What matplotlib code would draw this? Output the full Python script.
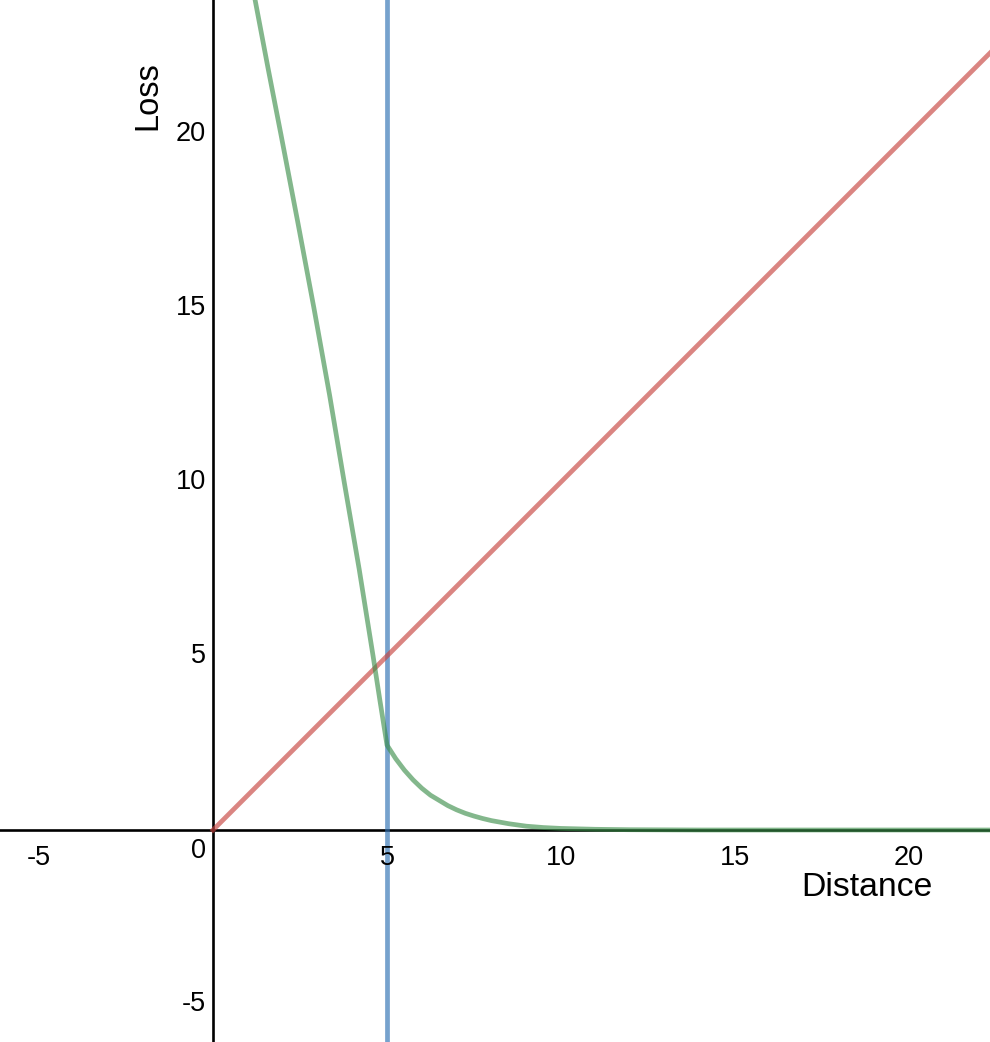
import numpy as np
import matplotlib
matplotlib.use("Agg")
import matplotlib.pyplot as plt

plt.rcParams['font.family'] = ['Liberation Sans', 'DejaVu Sans']

# Data
green_x = [1.0, 1.21, 1.58, 1.95, 2.43, 2.9, 3.35, 3.77, 4.2, 4.6, 4.8, 5.0,
           5.25, 5.5, 5.75, 6.0, 6.25, 6.5, 6.75, 7.0, 7.25, 7.5, 7.75, 8.0,
           8.5, 9.0, 9.5, 10.0, 11.0, 12.0, 14.0, 23.0]
green_y = [24.95, 23.85, 21.9, 20.0, 17.5, 15.0, 12.5, 10.0, 7.5, 5.0, 3.7, 2.44,
           2.05, 1.72, 1.44, 1.2, 1.0, 0.85, 0.7, 0.58, 0.48, 0.4, 0.33, 0.27,
           0.18, 0.11, 0.07, 0.045, 0.02, 0.008, 0.0, 0.0]
red_x = [0.0, 23.0]
red_y = [0.0, 23.0]
margin_x = 5.0

x_ticks = [-5, 5, 10, 15, 20]
y_ticks = [-5, 5, 10, 15, 20]

# Desmos-like colours
GREEN = '#388c46'
RED = '#c74440'
BLUE = '#2d70b3'

fig = plt.figure(figsize=(9.9, 10.42), dpi=100)
ax = fig.add_axes([0, 0, 1, 1])
unit = 34.8  # pixels per unit
ax.set_xlim(-213 / unit, (990 - 213) / unit)
ax.set_ylim(-(1042 - 830) / unit, 830 / unit)
ax.axis('off')

# axes
ax.axhline(0, color='black', lw=1.9, zorder=1)
ax.axvline(0, color='black', lw=1.9, zorder=1)

# curves
ax.axvline(margin_x, color=BLUE, lw=3.4, alpha=0.65, zorder=2)
ax.plot(red_x, red_y, color=RED, lw=3.4, alpha=0.65, zorder=3)
ax.plot(green_x, green_y, color=GREEN, lw=3.4, alpha=0.62, zorder=4,
        solid_joinstyle='round')

# tick labels
for xv in x_ticks:
    ax.text(xv, -0.8, str(xv), ha='center', va='center', fontsize=19.5)
for yv in y_ticks:
    ax.text(-0.2, yv, str(yv), ha='right', va='center', fontsize=19.5)
ax.text(-0.2, -0.6, '0', ha='right', va='center', fontsize=19.5)

# axis titles
ax.text(-1.86, 21.1, 'Loss', rotation=90, ha='center', va='center', fontsize=23.5)
ax.text(18.79, -1.64, 'Distance', ha='center', va='center', fontsize=24.3)

fig.savefig('out.png', dpi=100)
